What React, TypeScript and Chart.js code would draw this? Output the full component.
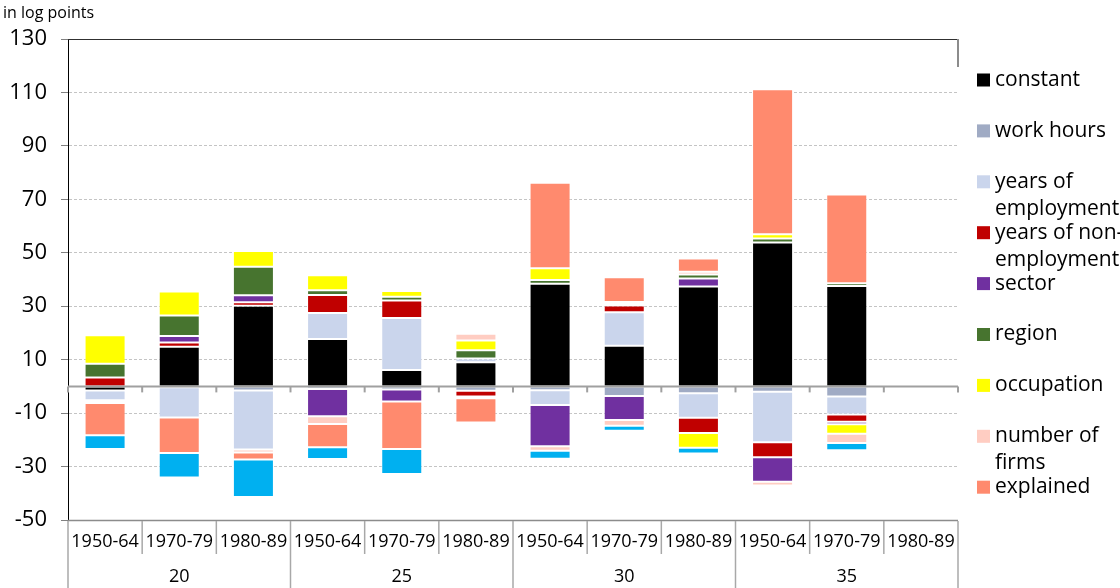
import React, { useEffect, useRef } from 'react';
import { Chart, registerables } from 'chart.js';

Chart.register(...registerables);

// ---- data ----
const periods = ['1950-64', '1970-79', '1980-89', '1950-64', '1970-79', '1980-89', '1950-64', '1970-79', '1980-89', '1950-64', '1970-79', '1980-89'];
const groups = ['20', '25', '30', '35'];
const yMin = -50;
const yMax = 130;
const yStep = 20;

const constant = [-1.5, 14.8, 30.2, 17.7, 6.1, 9.0, 38.4, 15.2, 37.4, 53.8, 37.6, null];
const workHours = [null, -0.3, -1.5, -1.0, -1.2, -1.6, -1.4, -3.6, -2.6, -2.0, -3.8, null];
const yearsEmployment = [-3.7, -11.3, -22.1, 9.8, 19.5, 1.4, -5.6, 12.5, -9.1, -18.9, -6.7, null];
const yearsNonEmployment = [3.3, 1.6, 1.3, 6.7, 6.5, -2.2, null, 2.6, -5.7, -5.6, -2.7, null];
const sector = [-0.5, 2.5, 2.6, -10.2, -4.5, -0.6, -15.4, -9.0, 3.0, -9.2, -1.0, null];
const region = [5.2, 7.6, 10.7, 1.8, 1.4, 3.1, 1.4, 0.6, 1.5, 1.5, 1.0, null];
const occupation = [10.6, 9.0, 5.9, 5.6, 2.2, 3.7, 4.4, 0.7, -5.6, 1.6, -3.5, null];
const numberOfFirms = [-0.5, null, -1.1, -2.9, null, 2.5, -1.7, -2.1, 1.0, -1.4, -3.5, null];
const explained = [-12.1, -13.3, -2.7, -8.7, -17.7, -9.1, 32.0, 9.2, 5.0, 54.3, 33.2, null];
const unexplained = [-5.1, -9.2, -14.0, -4.4, -9.4, 0.6, -3.0, -1.9, -2.1, -0.6, -2.7, null];

const seriesNames = ['constant', 'work hours', 'years of employment', 'years of non-employment', 'sector', 'region', 'occupation', 'number of firms', 'explained', 'unexplained'];
const seriesValues = [constant, workHours, yearsEmployment, yearsNonEmployment, sector, region, occupation, numberOfFirms, explained, unexplained];
const seriesColors = ['#000000', '#A0ABC4', '#CAD5EC', '#C00000', '#7030A0', '#47742F', '#FFFF00', '#FFCDC2', '#FF8A6E', '#00B0F0'];
const legendLines = [['constant'], ['work hours'], ['years of', 'employment'], ['years of non-', 'employment'], ['sector'], ['region'], ['occupation'], ['number of', 'firms'], ['explained']];

const FONT = "'Open Sans', 'Liberation Sans', sans-serif";

const decorPlugin = {
  id: 'decor',
  afterDraw(chart: any) {
    const { ctx, chartArea } = chart;
    const { left, right, top, bottom } = chartArea;
    const xs = chart.scales.x;
    const ys = chart.scales.y;
    ctx.save();

    // title
    ctx.fillStyle = '#000';
    ctx.font = `16px ${FONT}`;
    ctx.textAlign = 'left';
    ctx.textBaseline = 'middle';
    ctx.fillText('in log points', 3, 13);

    // plot borders
    ctx.strokeStyle = '#303030';
    ctx.lineWidth = 1;
    ctx.beginPath();
    ctx.moveTo(left, top + 0.5);
    ctx.lineTo(right, top + 0.5);
    ctx.stroke();
    ctx.strokeStyle = '#8c8c8c';
    ctx.lineWidth = 2;
    ctx.beginPath();
    ctx.moveTo(right, top);
    ctx.lineTo(right, top + 28);
    ctx.stroke();

    // zero axis with ticks
    const y0 = ys.getPixelForValue(0);
    const n = periods.length;
    const bounds: number[] = [left];
    for (let i = 0; i < n - 1; i++) {
      bounds.push((xs.getPixelForValue(i) + xs.getPixelForValue(i + 1)) / 2);
    }
    bounds.push(right);
    ctx.strokeStyle = '#a0a0a0';
    ctx.lineWidth = 2;
    ctx.beginPath();
    ctx.moveTo(left, y0);
    ctx.lineTo(right, y0);
    ctx.stroke();
    bounds.forEach((bx) => {
      ctx.beginPath();
      ctx.moveTo(bx, y0);
      ctx.lineTo(bx, y0 + 6);
      ctx.stroke();
    });

    // bottom category table
    ctx.strokeStyle = '#8c8c8c';
    ctx.lineWidth = 1.5;
    ctx.beginPath();
    ctx.moveTo(left, bottom + 0.5);
    ctx.lineTo(right, bottom + 0.5);
    ctx.stroke();
    ctx.strokeStyle = '#a8a8a8';
    bounds.forEach((bx, i) => {
      const full = i % 3 === 0;
      ctx.beginPath();
      ctx.moveTo(bx, bottom + 1);
      ctx.lineTo(bx, full ? 588 : bottom + 34);
      ctx.stroke();
    });
    ctx.fillStyle = '#000';
    ctx.font = `18px ${FONT}`;
    ctx.textAlign = 'center';
    ctx.textBaseline = 'middle';
    periods.forEach((p, i) => {
      ctx.fillText(p, xs.getPixelForValue(i), bottom + 22);
    });
    groups.forEach((g, gi) => {
      const cx = (bounds[gi * 3] + bounds[gi * 3 + 3]) / 2;
      ctx.fillText(g, cx, bottom + 57);
    });

    // legend
    ctx.font = `21px ${FONT}`;
    ctx.textAlign = 'left';
    legendLines.forEach((lines, i) => {
      const cy = 80 + i * 50.9;
      ctx.fillStyle = seriesColors[i];
      ctx.fillRect(977, cy - 6.5, 13, 13);
      ctx.fillStyle = '#000';
      lines.forEach((t, li) => {
        ctx.fillText(t, 995, cy + li * 27);
      });
    });

    ctx.restore();
  },
};

export default function App() {
  const ref = useRef<HTMLCanvasElement | null>(null);
  useEffect(() => {
    document.body.style.margin = '0';
    const canvas = ref.current;
    if (!canvas) return;
    const labels = periods.map((p, i) => `${groups[Math.floor(i / 3)]} ${p}`);
    const chart = new Chart(canvas, {
      type: 'bar',
      data: {
        labels,
        datasets: seriesNames.map((name, i) => ({
          label: name,
          data: seriesValues[i] as any,
          backgroundColor: seriesColors[i],
          borderColor: 'rgba(255,255,255,0.45)',
          borderWidth: 1,
          borderSkipped: false,
          categoryPercentage: 0.553,
          barPercentage: 1,
        })),
      },
      options: {
        responsive: false,
        animation: false,
        layout: { padding: { top: 39, left: 0, right: 162, bottom: 68 } },
        plugins: { legend: { display: false }, tooltip: { enabled: false }, title: { display: false } },
        scales: {
          x: { stacked: true, display: false },
          y: {
            stacked: true,
            min: yMin,
            max: yMax,
            afterFit: (s: any) => { s.width = 68; },
            ticks: {
              stepSize: yStep,
              color: '#000',
              padding: 14,
              font: { family: FONT, size: 22 },
            },
            grid: {
              color: (c: any) => {
                const v = c.tick ? c.tick.value : null;
                return v === yMin || v === yMax || v === 0 ? 'rgba(0,0,0,0)' : '#c4c4c4';
              },
              tickColor: '#808080',
              tickLength: 7,
              lineWidth: 1,
            },
            border: { color: '#000', width: 1, dash: [3, 2] },
          },
        },
      },
      plugins: [decorPlugin],
    });
    return () => chart.destroy();
  }, []);
  return <canvas ref={ref} width={1120} height={588} style={{ display: 'block', width: 1120, height: 588 }} />;
}
